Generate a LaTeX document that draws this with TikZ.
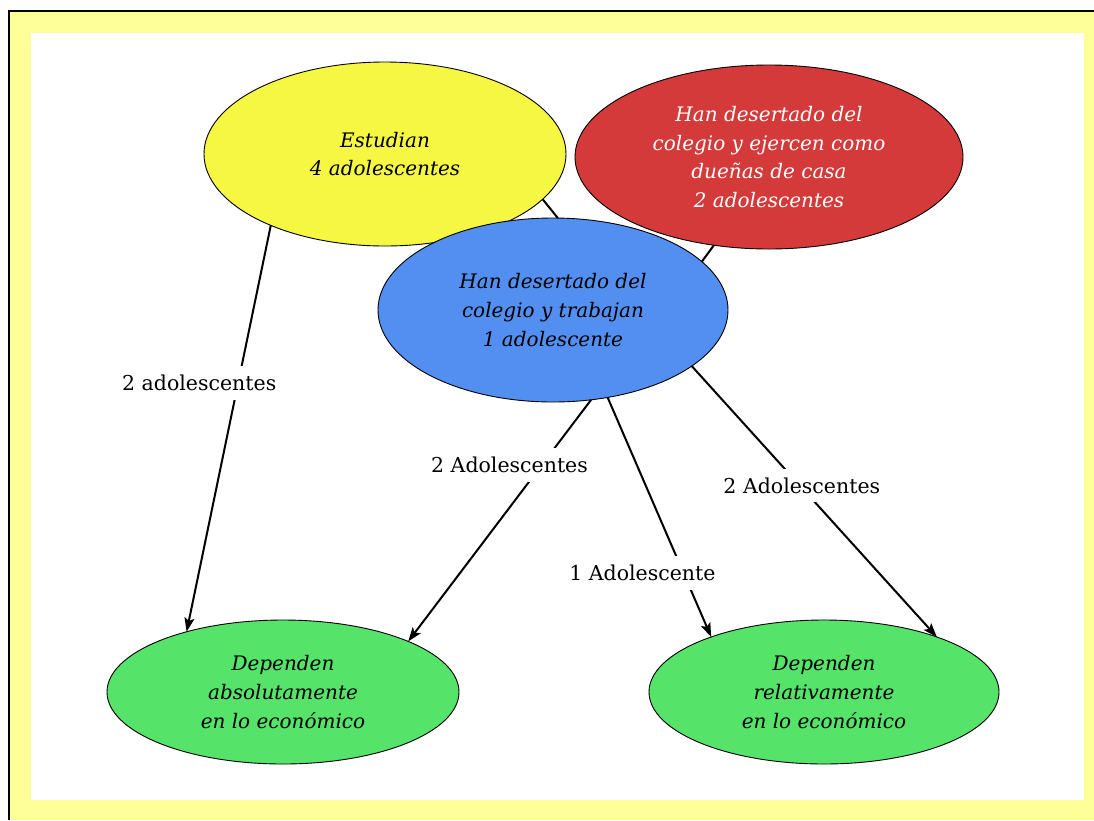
\documentclass[tikz,border=0pt]{standalone}
\usepackage{fontspec}
\setmainfont{DejaVu Serif}
\usetikzlibrary{shapes.geometric,arrows.meta}
\definecolor{frameyellow}{RGB}{255,255,153}
\definecolor{bubyellow}{RGB}{245,247,66}
\definecolor{bubred}{RGB}{212,58,58}
\definecolor{bubblue}{RGB}{82,143,240}
\definecolor{bubgreen}{RGB}{85,227,106}
\begin{document}
\begin{tikzpicture}[x=1pt,y=-1pt,
  bubble/.style={ellipse, draw=black, line width=0.9pt, inner sep=0pt, outer sep=0pt,
    align=center, font=\fontsize{20}{28.7}\selectfont\itshape},
  link/.style={line width=2pt},
  arr/.style={line width=2pt, -{Stealth[length=14pt,width=10pt,inset=3pt]}},
  lbl/.style={fill=white, inner xsep=3pt, inner ysep=9pt, font=\fontsize{20.5}{24}\selectfont}
]
\useasboundingbox (0,0) rectangle (1094,820);
% frame
\fill[frameyellow] (9,11) rectangle (1094,820);
\draw[line width=2.2pt] (9,820) -- (9,11) -- (1094,11);
\fill[white] (31,33) rectangle (1084,800);

% bubbles
\node[bubble, fill=bubyellow, minimum width=362, minimum height=184] (est) at (385,154)
  {Estudian\\4 adolescentes};
\node[bubble, fill=bubred, text=white, minimum width=388, minimum height=184] (casa) at (769,157)
  {Han desertado del\\colegio y ejercen como\\dueñas de casa\\2 adolescentes};
\node[bubble, fill=bubblue, minimum width=350, minimum height=184] (trab) at (553,310)
  {Han desertado del\\colegio y trabajan\\1 adolescente};
\node[bubble, fill=bubgreen, minimum width=352, minimum height=144] (abs) at (283,692)
  {Dependen\\absolutamente\\en lo económico};
\node[bubble, fill=bubgreen, minimum width=350, minimum height=144] (rel) at (824,692)
  {Dependen\\relativamente\\en lo económico};

% plain links
\draw[link] (est.-16) -- (trab.87);
\draw[link] (casa.238) -- (trab.18);

% arrows with counts
\draw[arr] (est.-148) -- node[lbl, pos=0.387, xshift=-39] {2 adolescentes} (abs.148);
\draw[arr] (trab.-67) -- node[lbl, pos=0.271, xshift=-32] {2 Adolescentes} (abs.22.5);
\draw[arr] (trab.-58.5) -- node[lbl, pos=0.732, xshift=-41] {1 Adolescente} (rel.154);
\draw[arr] (trab.-22.6) -- node[lbl, pos=0.441, xshift=2] {2 Adolescentes} (rel.26.6);
\end{tikzpicture}
\end{document}
